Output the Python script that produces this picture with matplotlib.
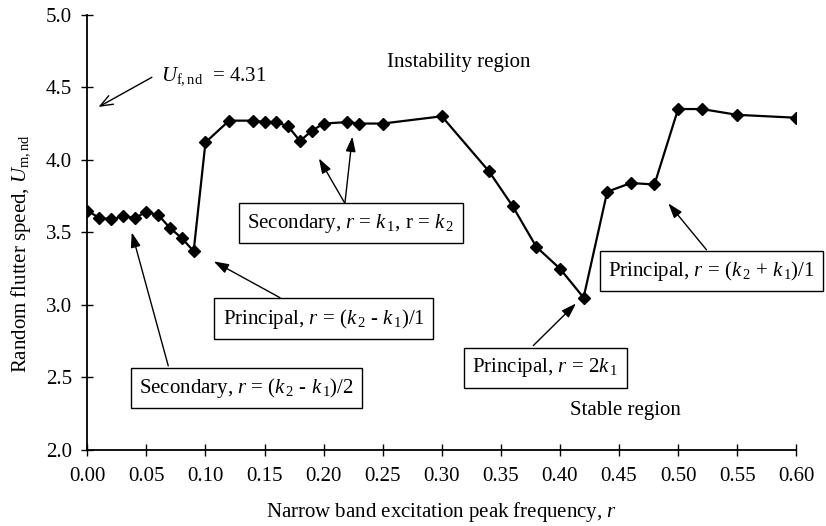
import matplotlib
matplotlib.use("Agg")
import matplotlib.pyplot as plt

plt.rcParams['font.family'] = ['Liberation Serif', 'DejaVu Serif']
plt.rcParams['mathtext.fontset'] = 'custom'
plt.rcParams['mathtext.rm'] = 'Liberation Serif'
plt.rcParams['mathtext.it'] = 'Liberation Serif:italic'
plt.rcParams['mathtext.bf'] = 'Liberation Serif:bold'

r = [0.00, 0.01, 0.02, 0.03, 0.04, 0.05, 0.06, 0.07, 0.08, 0.09,
     0.10, 0.12, 0.14, 0.15, 0.16, 0.17, 0.18, 0.19, 0.20, 0.22,
     0.23, 0.25, 0.30, 0.34, 0.36, 0.38, 0.40, 0.42, 0.44, 0.46,
     0.48, 0.50, 0.52, 0.55, 0.60]
U = [3.65, 3.60, 3.59, 3.61, 3.60, 3.64, 3.62, 3.53, 3.46, 3.37,
     4.12, 4.27, 4.27, 4.26, 4.26, 4.23, 4.13, 4.20, 4.25, 4.26,
     4.25, 4.25, 4.30, 3.92, 3.68, 3.40, 3.25, 3.05, 3.78, 3.84,
     3.83, 4.35, 4.35, 4.31, 4.29]

xticks = [0.00, 0.05, 0.10, 0.15, 0.20, 0.25, 0.30, 0.35, 0.40, 0.45, 0.50, 0.55, 0.60]
yticks = [2.0, 2.5, 3.0, 3.5, 4.0, 4.5, 5.0]

FS = 15

fig = plt.figure(figsize=(8.26, 5.26), dpi=100)
ax = fig.add_axes([0.1057, 0.1445, 0.8583, 0.8275])

ax.plot(r, U, color='black', lw=1.6, marker='D', markersize=6, zorder=3)

ax.set_xlim(0, 0.60)
ax.set_ylim(2.0, 5.0)
ax.set_xticks(xticks)
ax.set_xticklabels([f"{v:.2f}" for v in xticks])
ax.set_yticks(yticks)
ax.set_yticklabels([f"{v:.1f}" for v in yticks])
ax.tick_params(direction='inout', length=8, width=1.0, labelsize=FS, pad=8)
ax.tick_params(axis='y', pad=7)
for s in ['top', 'right']:
    ax.spines[s].set_visible(False)
for s in ['left', 'bottom']:
    ax.spines[s].set_linewidth(1.3)

ax.set_xlabel('Narrow band excitation peak frequency, $r$', fontsize=FS, labelpad=10)
ax.set_ylabel('Random flutter speed, $U_{\\mathrm{m,nd}}$', fontsize=FS)
ax.yaxis.set_label_coords(-0.077, 0.45)

# Region labels
ax.text(0.3146, 4.67, 'Instability region', fontsize=FS, ha='center', va='center')
ax.text(0.4556, 2.27, 'Stable region', fontsize=FS, ha='center', va='center')

# Flutter speed annotation (open arrow)
ax.text(0.062, 4.58, '$U_{\\mathrm{f,nd}}$  = 4.31', fontsize=FS, ha='left', va='center')
ax.annotate('', xy=(0.0074, 4.355), xytext=(0.0567, 4.578),
            arrowprops=dict(arrowstyle='->,head_length=0.9,head_width=0.35',
                            color='black', lw=1.0))

box = dict(boxstyle='square,pad=0.4', facecolor='white', edgecolor='black', lw=1.0)
arrow = dict(arrowstyle='-|>,head_length=0.9,head_width=0.3', color='black', lw=1.0,
             shrinkA=0, shrinkB=0)

ax.text(0.223, 3.564, 'Secondary, $r$ = $k_{\\,1}$, r = $k_{\\,2}$', fontsize=FS,
        ha='center', va='center', bbox=box, zorder=5)
ax.annotate('', xy=(0.196, 4.01), xytext=(0.218, 3.70), arrowprops=arrow)
ax.annotate('', xy=(0.2243, 4.16), xytext=(0.218, 3.70), arrowprops=arrow)

ax.text(0.200, 2.904, 'Principal, $r$ = ($k_{\\,2}$ - $k_{\\,1}$)/1', fontsize=FS,
        ha='center', va='center', bbox=box, zorder=5)
ax.annotate('', xy=(0.107, 3.30), xytext=(0.163, 3.05), arrowprops=arrow)

ax.text(0.1349, 2.427, 'Secondary, $r$ = ($k_{\\,2}$ - $k_{\\,1}$)/2', fontsize=FS,
        ha='center', va='center', bbox=box, zorder=5)
ax.annotate('', xy=(0.0376, 3.50), xytext=(0.0685, 2.58), arrowprops=arrow)

ax.text(0.3875, 2.567, 'Principal, $r$ = 2$k_{\\,1}$', fontsize=FS,
        ha='center', va='center', bbox=box, zorder=5)
ax.annotate('', xy=(0.4136, 3.01), xytext=(0.3775, 2.72), arrowprops=arrow)

ax.text(0.5282, 3.234, 'Principal, $r$ = ($k_{\\,2}$ + $k_{\\,1}$)/1', fontsize=FS,
        ha='center', va='center', bbox=box, zorder=5)
ax.annotate('', xy=(0.4917, 3.70), xytext=(0.524, 3.38), arrowprops=arrow)

fig.savefig('out.png', dpi=100)
